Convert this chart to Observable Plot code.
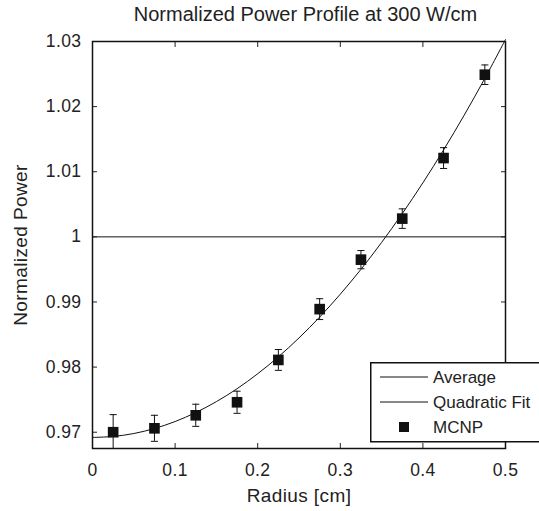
<!DOCTYPE html>
<html>
<head>
<meta charset="utf-8">
<script src="https://cdn.jsdelivr.net/npm/d3@7"></script>
<script src="https://cdn.jsdelivr.net/npm/@observablehq/plot@0.6"></script>
<style>
  html, body { margin: 0; padding: 0; background: #fff; }
  #wrap { position: relative; width: 539px; height: 511px; overflow: hidden; font-family: "Liberation Sans", Arial, sans-serif; }
  #title { position: absolute; left: 0; top: 3px; width: 611px; text-align: center; font-size: 20px; color: #222; }
  #legend { position: absolute; left: 370px; top: 362px; }
  #chart svg text { letter-spacing: 0.4px; }
</style>
</head>
<body>
<div id="wrap">
  <div id="chart"></div>
  <div id="title">Normalized Power Profile at 300 W/cm</div>
  <div id="legend"></div>
</div>
<script>
// MCNP data
const radius = [0.025, 0.075, 0.125, 0.175, 0.225, 0.275, 0.325, 0.375, 0.425, 0.475];
const mcnpPower = [0.9700, 0.9706, 0.9726, 0.9746, 0.9811, 0.9889, 0.9965, 1.0028, 1.0121, 1.0249];
const mcnpError = [0.0027, 0.0020, 0.0017, 0.0017, 0.0016, 0.0016, 0.0014, 0.0015, 0.0016, 0.0015];
// Quadratic fit curve
const fitRadius = [0, 0.025, 0.05, 0.075, 0.1, 0.125, 0.15, 0.175, 0.2, 0.225, 0.25, 0.275, 0.3, 0.325, 0.35, 0.375, 0.4, 0.425, 0.45, 0.475, 0.5];
const fitPower = [0.9692, 0.96935, 0.9698, 0.97057, 0.97164, 0.97302, 0.9747, 0.97668, 0.97898, 0.98157, 0.98448, 0.98768, 0.9912, 0.99501, 0.99914, 1.00357, 1.0083, 1.01334, 1.01869, 1.02434, 1.0303];
// Average
const averageRadius = [0, 0.5];
const averagePower = [1, 1];
// Ticks
const xTicks = [0, 0.1, 0.2, 0.3, 0.4, 0.5];
const yTicks = [0.97, 0.98, 0.99, 1, 1.01, 1.02, 1.03];
const legendLabels = ["Average", "Quadratic Fit", "MCNP"];

const pts = radius.map((r, i) => ({r, p: mcnpPower[i], lo: mcnpPower[i] - mcnpError[i], hi: mcnpPower[i] + mcnpError[i]}));
const fit = fitRadius.map((r, i) => ({r, p: fitPower[i]}));
const avg = averageRadius.map((r, i) => ({r, p: averagePower[i]}));

const cap = { draw(ctx, size) { const w = Math.sqrt(size); ctx.moveTo(-w / 2, 0); ctx.lineTo(w / 2, 0); } };
const fmt = d => d3.format("")(+d.toFixed(2));
const blank = () => "";

const chart = Plot.plot({
  width: 539,
  height: 511,
  marginLeft: 92,
  marginRight: 34,
  marginTop: 41,
  marginBottom: 63,
  style: { fontFamily: "Liberation Sans, Arial, sans-serif", fontSize: "17px", color: "#222", background: "white" },
  x: { domain: [0, 0.5] },
  y: { domain: [0.9675, 1.03] },
  marks: [
    Plot.line(avg, { x: "r", y: "p", stroke: "#111", strokeWidth: 1 }),
    Plot.line(fit, { x: "r", y: "p", stroke: "#111", strokeWidth: 1, curve: "catmull-rom" }),
    Plot.ruleX(pts, { x: "r", y1: "lo", y2: "hi", stroke: "#111", strokeWidth: 1, clip: true }),
    Plot.dot(pts, { x: "r", y: "hi", symbol: cap, r: 4, stroke: "#111", strokeWidth: 1, fill: "none" }),
    Plot.dot(pts.filter(d => d.lo > 0.9675), { x: "r", y: "lo", symbol: cap, r: 4, stroke: "#111", strokeWidth: 1, fill: "none" }),
    Plot.dot(pts, { x: "r", y: "p", symbol: "square", r: 6, fill: "#111", stroke: "none" }),
    Plot.axisX({ anchor: "bottom", ticks: xTicks, tickSize: -5, tickPadding: 20, tickFormat: fmt, label: null, fontSize: 17.5 }),
    Plot.axisX({ anchor: "bottom", ticks: [], label: "Radius [cm]", labelAnchor: "center", labelArrow: "none", labelOffset: 53, fontSize: 19 }),
    Plot.axisX({ anchor: "top", ticks: xTicks, tickSize: -5, tickFormat: blank, label: null }),
    Plot.axisY({ anchor: "left", ticks: yTicks, tickSize: -5, tickPadding: 16, tickFormat: fmt, label: null, fontSize: 17.5 }),
    Plot.axisY({ anchor: "left", ticks: [], label: "Normalized Power", labelAnchor: "center", labelArrow: "none", labelOffset: 79, fontSize: 19 }),
    Plot.axisY({ anchor: "right", ticks: yTicks, tickSize: -5, tickFormat: blank, label: null }),
    Plot.frame({ stroke: "#111", strokeWidth: 1.5 })
  ]
});
document.getElementById("chart").appendChild(chart);

// Legend
const ns = "http://www.w3.org/2000/svg";
const lg = document.createElementNS(ns, "svg");
lg.setAttribute("width", 175);
lg.setAttribute("height", 81);
let html = `<rect x="0.75" y="0.75" width="180" height="79" fill="white" stroke="#111" stroke-width="1.5"/>`;
legendLabels.forEach((t, i) => {
  const cy = 15 + i * 25;
  if (i < 2) {
    html += `<line x1="10" x2="58" y1="${cy}" y2="${cy}" stroke="#111" stroke-width="1"/>`;
  } else {
    html += `<rect x="${34 - 5}" y="${cy - 5}" width="10" height="10" fill="#111"/>`;
  }
  html += `<text x="63" y="${cy + 6}" font-size="17" fill="#222" font-family="Liberation Sans, Arial, sans-serif">${t}</text>`;
});
lg.innerHTML = html;
document.getElementById("legend").appendChild(lg);
</script>
</body>
</html>
